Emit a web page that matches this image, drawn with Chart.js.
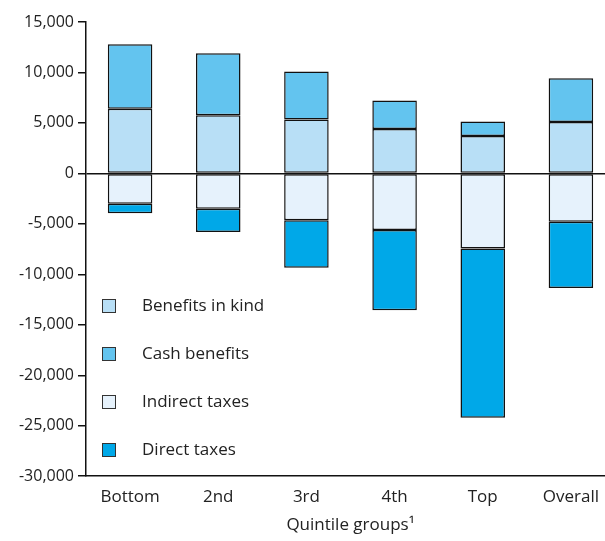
<!DOCTYPE html>
<html>
<head>
<meta charset="utf-8">
<script src="https://cdn.jsdelivr.net/npm/chart.js@4"></script>
<style>
  html, body { margin: 0; padding: 0; background: #fff; overflow: hidden; }
  #wrap { position: relative; width: 615px; height: 541px; }
</style>
</head>
<body>
<div id="wrap"><canvas id="c"></canvas></div>
<script>
const categories = ["Bottom", "2nd", "3rd", "4th", "Top", "Overall"];
const benefitsInKind = [6400, 5750, 5350, 4400, 3700, 5100];
const cashBenefits   = [6400, 6150, 4750, 2820, 1430, 4330];
const indirectTaxes  = [-3000, -3500, -4650, -5600, -7450, -4800];
const directTaxes    = [-950, -2300, -4700, -7950, -16750, -6550];
const yTicks = [15000, 10000, 5000, 0, -5000, -10000, -15000, -20000, -25000, -30000];
const xTitle = "Quintile groups\u00B9";

const FONT = "'Open Sans', 'Noto Sans', sans-serif";
const TXT = "#222";

function fmt(v) {
  const s = Math.abs(v).toString().replace(/\B(?=(\d{3})+(?!\d))/g, ",");
  return (v < 0 ? "-" : "") + s;
}

const border = { borderColor: "#111", borderWidth: 1.5, borderSkipped: false };

const legendPlugin = {
  id: "insideLegend",
  afterDraw(chart) {
    const ctx = chart.ctx;
    const a = chart.chartArea;
    ctx.save();
    ctx.font = "17px " + FONT;
    ctx.textBaseline = "middle";
    chart.data.datasets.forEach((ds, i) => {
      const y = 306 + i * 48;
      const x = a.left + 16;
      ctx.fillStyle = ds.backgroundColor;
      ctx.fillRect(x, y - 7, 14, 14);
      ctx.strokeStyle = "#333";
      ctx.lineWidth = 1;
      ctx.strokeRect(x + 0.5, y - 6.5, 13, 13);
      ctx.fillStyle = TXT;
      ctx.textAlign = "left";
      ctx.fillText(ds.label, a.left + 56, y);
    });
    ctx.restore();
  }
};

new Chart(document.getElementById("c"), {
  type: "bar",
  data: {
    labels: categories,
    datasets: [
      { label: "Benefits in kind", data: benefitsInKind, backgroundColor: "#b8dff6", ...border },
      { label: "Cash benefits", data: cashBenefits, backgroundColor: "#63c4ef", ...border },
      { label: "Indirect taxes", data: indirectTaxes, backgroundColor: "#e6f2fc", ...border },
      { label: "Direct taxes", data: directTaxes, backgroundColor: "#00a8e8", ...border }
    ]
  },
  plugins: [legendPlugin],
  options: {
    responsive: true,
    maintainAspectRatio: false,
    animation: false,
    devicePixelRatio: 1,
    layout: { padding: { top: 22, left: 4, right: 0, bottom: 6 } },
    datasets: { bar: { barPercentage: 1, categoryPercentage: 0.505 } },
    plugins: { legend: { display: false }, tooltip: { enabled: false } },
    scales: {
      x: {
        stacked: true,
        grid: { display: false },
        border: { display: true, color: "#111", width: 1.5 },
        ticks: { color: TXT, font: { family: FONT, size: 17 }, padding: 3, maxRotation: 0 },
        title: { display: true, text: xTitle, color: TXT, font: { family: FONT, size: 17 }, padding: { top: 4, bottom: 0 } }
      },
      y: {
        stacked: true,
        min: -30000,
        max: 15000,
        afterBuildTicks(scale) { scale.ticks = yTicks.map(v => ({ value: v })); },
        afterFit(scale) { scale.width = 82; },
        grid: {
          color: ctx => (ctx.tick && ctx.tick.value === 0 ? "#111" : "rgba(0,0,0,0)"),
          lineWidth: 1.5,
          tickColor: "#111",
          tickLength: 8,
          drawOnChartArea: true
        },
        border: { display: true, color: "#111", width: 1.5 },
        ticks: { color: TXT, font: { family: FONT, size: 16 }, padding: 4, callback: v => fmt(v) }
      }
    }
  }
});
</script>
</body>
</html>
